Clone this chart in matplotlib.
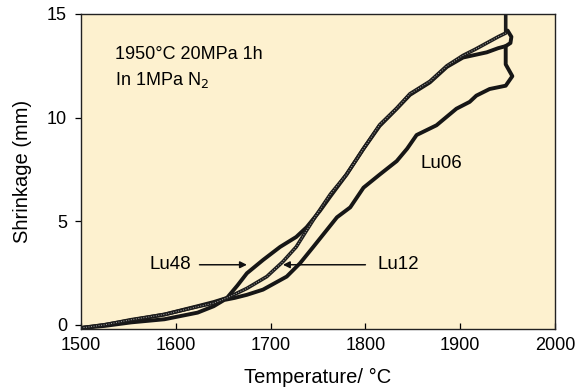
import matplotlib
matplotlib.use("Agg")
import matplotlib.pyplot as plt

plt.rcParams['font.family'] = ['Liberation Sans', 'DejaVu Sans']

lu48_T = [1500, 1525, 1553, 1588, 1623, 1640, 1654, 1665, 1675, 1692, 1710, 1727, 1738, 1752, 1763,
          1780, 1798, 1815, 1833, 1847, 1868, 1886, 1903, 1918, 1928, 1940, 1948, 1953, 1954, 1950]
lu48_S = [-0.15, 0.0, 0.22, 0.5, 0.9, 1.1, 1.3, 1.9, 2.49, 3.13, 3.76, 4.24, 4.71, 5.5, 6.2,
          7.25, 8.5, 9.6, 10.43, 11.1, 11.7, 12.45, 12.9, 13.05, 13.15, 13.35, 13.45, 13.6, 13.9, 14.2]

lu12_T = [1500, 1525, 1553, 1588, 1623, 1640, 1654, 1675, 1696, 1713, 1727, 1738, 1749, 1763, 1780,
          1798, 1815, 1833, 1847, 1868, 1886, 1903, 1916, 1928, 1940, 1948, 1948, 1948]
lu12_S = [-0.15, 0.0, 0.25, 0.5, 0.88, 1.05, 1.3, 1.76, 2.33, 3.05, 3.76, 4.56, 5.35, 6.3, 7.25,
          8.5, 9.65, 10.45, 11.15, 11.75, 12.5, 13.0, 13.3, 13.6, 13.9, 14.08, 14.6, 15.1]

lu06_T = [1500, 1525, 1553, 1588, 1623, 1640, 1651, 1662, 1675, 1692, 1717, 1731, 1745, 1759, 1770,
          1784, 1798, 1815, 1833, 1844, 1854, 1875, 1896, 1910, 1917, 1931, 1948, 1955, 1948, 1948]
lu06_S = [-0.15, -0.05, 0.12, 0.27, 0.59, 0.9, 1.2, 1.3, 1.45, 1.7, 2.33, 2.97, 3.76, 4.56, 5.19,
          5.67, 6.62, 7.25, 7.9, 8.5, 9.16, 9.63, 10.43, 10.76, 11.06, 11.38, 11.54, 12.0, 12.57, 13.45]

x_ticks = [1500, 1600, 1700, 1800, 1900, 2000]
y_ticks = [0, 5, 10, 15]

bg = '#FDF1CF'
ink = '#161616'
fig = plt.figure(figsize=(5.8, 3.9), dpi=100)
ax = fig.add_axes([81 / 580, 1 - 329 / 390, 474 / 580, 315 / 390])
ax.set_facecolor(bg)

ax.plot(lu06_T, lu06_S, color=ink, lw=2.8, solid_capstyle='round', solid_joinstyle='round')
ax.plot(lu48_T, lu48_S, color=ink, lw=2.8, solid_capstyle='round', solid_joinstyle='round')
ax.plot(lu12_T, lu12_S, color='#1c1c1c', lw=2.6, solid_capstyle='round', solid_joinstyle='round')
# hollow-dot texture of the Lu12 trace (the hold segment at 1950 °C is solid)
ax.plot(lu12_T[:-2], lu12_S[:-2], color='#a8a8a8', lw=0.7, ls=(0, (1, 1.6)))

ax.set_xlim(1500, 2000)
ax.set_ylim(-0.2, 15)
ax.set_xticks(x_ticks)
ax.set_yticks(y_ticks)
ax.tick_params(axis='x', direction='in', length=4, width=0.9, labelsize=13, pad=6, top=False)
ax.tick_params(axis='y', direction='out', length=4, width=0.9, labelsize=13, pad=6, right=False)
ax.set_xlabel('Temperature/ °C', fontsize=14.5, labelpad=10)
ax.set_ylabel('Shrinkage (mm)', fontsize=14.5, labelpad=11)
for s in ax.spines.values():
    s.set_linewidth(1.0)
    s.set_color('#222222')

ax.text(1536, 13.05, '1950°C 20MPa 1h', fontsize=13, va='center', ha='left')
ax.text(1536, 11.8, 'In 1MPa N$_2$', fontsize=13, va='center', ha='left')

ax.text(1880, 7.8, 'Lu06', fontsize=13.5, ha='center', va='center')
ax.text(1594, 2.9, 'Lu48', fontsize=13.5, ha='center', va='center')
ax.text(1835, 2.9, 'Lu12', fontsize=13.5, ha='center', va='center')
ax.annotate('', xy=(1675, 2.9), xytext=(1625, 2.9),
            arrowprops=dict(arrowstyle='-|>', color='#111111', lw=1.1, mutation_scale=10,
                            shrinkA=0, shrinkB=0))
ax.annotate('', xy=(1713, 2.9), xytext=(1800, 2.9),
            arrowprops=dict(arrowstyle='-|>', color='#111111', lw=1.1, mutation_scale=10,
                            shrinkA=0, shrinkB=0))

fig.savefig('out.png', dpi=100, facecolor='white')
